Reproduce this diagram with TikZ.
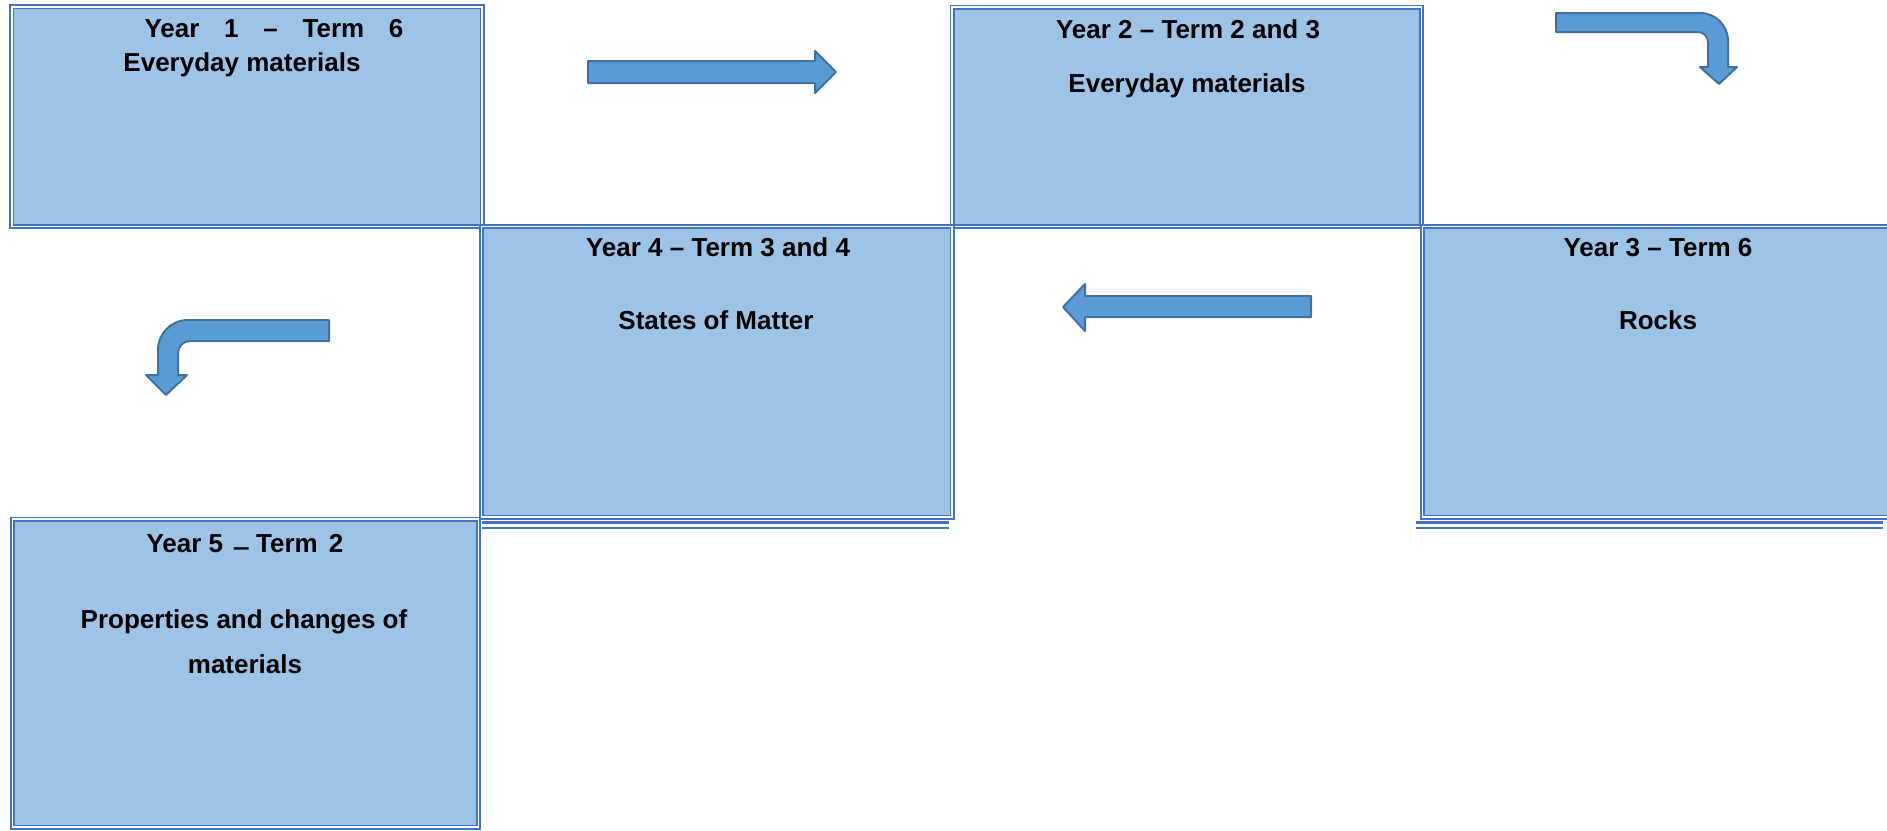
\documentclass[tikz,border=0pt]{standalone}
\usepackage{fontspec}
\setmainfont{Liberation Sans}
\definecolor{boxfill}{HTML}{9DC3E6}
\definecolor{boxline}{HTML}{4472C4}
\definecolor{arrfill}{HTML}{5B9BD5}
\definecolor{arrline}{HTML}{41719C}
\begin{document}
\begin{tikzpicture}[x=1pt,y=-1pt,
  box/.style={draw=boxline, double=white, double distance=1.8pt, line width=1.6pt,
              fill=boxfill, inner sep=0pt, outer sep=0pt, anchor=north west},
  underline/.style={draw=boxline, double=white, double distance=3pt, line width=2.2pt},
  lbl/.style={font=\fontsize{26}{30}\selectfont\bfseries, anchor=base, inner sep=0pt},
  blockarrow/.style={fill=arrfill, draw=arrline, line width=2pt, line join=round}]
\useasboundingbox (0,0) rectangle (1887,830);

% boxes
\node[box, minimum width=470.6pt, minimum height=219.8pt] (b1) at (11.7,6.7) {};
\node[box, minimum width=469.5pt, minimum height=219.5pt] (b2) at (952,7) {};
\node[box, minimum width=470.5pt, minimum height=290.5pt] (b4) at (481.5,226.5) {};
\node[box, minimum width=470.5pt, minimum height=290.5pt] (b3) at (1422.5,226.5) {};
\node[box, minimum width=466pt, minimum height=308pt] (b5) at (12.5,519) {};

% extra rules under row 2
\coordinate (u4a) at (482,525);
\coordinate (u4b) at (949,525);
\coordinate (u3a) at (1416,525);
\coordinate (u3b) at (1883,525);
\draw[underline] (u4a) -- (u4b);
\draw[underline] (u3a) -- (u3b);

% texts
\node[lbl] (t1a) at (274,37) {Year\hspace{17.5pt} 1\hspace{17.5pt} –\hspace{17.5pt} Term\hspace{17.5pt} 6};
\node[lbl] (t1b) at (242,71) {Everyday materials};
\node[lbl] (t2a) at (1188,38) {Year 2 – Term 2 and 3};
\node[lbl] (t2b) at (1187,92) {Everyday materials};
\node[lbl] (t3a) at (1658,256) {Year 3 – Term 6};
\node[lbl] (t3b) at (1658,329) {Rocks};
\node[lbl] (t4a) at (718,256) {Year 4 – Term 3 and 4};
\node[lbl] (t4b) at (716,329) {States of Matter};
\node[lbl] (t5a) at (245,552) {Year 5\hspace{4pt} \raisebox{10pt}{\scalebox{1}[2.4]{\_}} Term\hspace{4pt} 2};
\node[lbl] (t5b) at (244,628) {Properties and changes of};
\node[lbl] (t5c) at (245,673) {materials};

% block arrows
\draw[blockarrow] (588,61) -- (815,61) -- (815,51) -- (836,72) -- (815,93) -- (815,83) -- (588,83) -- cycle;
\draw[blockarrow] (1311,296) -- (1085,296) -- (1085,284) -- (1063,307) -- (1085,331) -- (1085,317) -- (1311,317) -- cycle;
\draw[blockarrow] (1556,13) -- (1700,13) .. controls (1715.5,13) and (1728,25.5) .. (1728,41)
  -- (1728,67) -- (1737,67) -- (1719,84) -- (1700,67) -- (1708,67) -- (1708,42)
  .. controls (1708,36.5) and (1703.5,32) .. (1698,32) -- (1556,32) -- cycle;
\draw[blockarrow] (329,320) -- (188,320) .. controls (171.4,320) and (158,333.4) .. (158,350)
  -- (158,375) -- (146,375) -- (166,395) -- (187,375) -- (178,375) -- (178,353)
  .. controls (178,346.4) and (183.4,341) .. (190,341) -- (329,341) -- cycle;
\end{tikzpicture}
\end{document}
